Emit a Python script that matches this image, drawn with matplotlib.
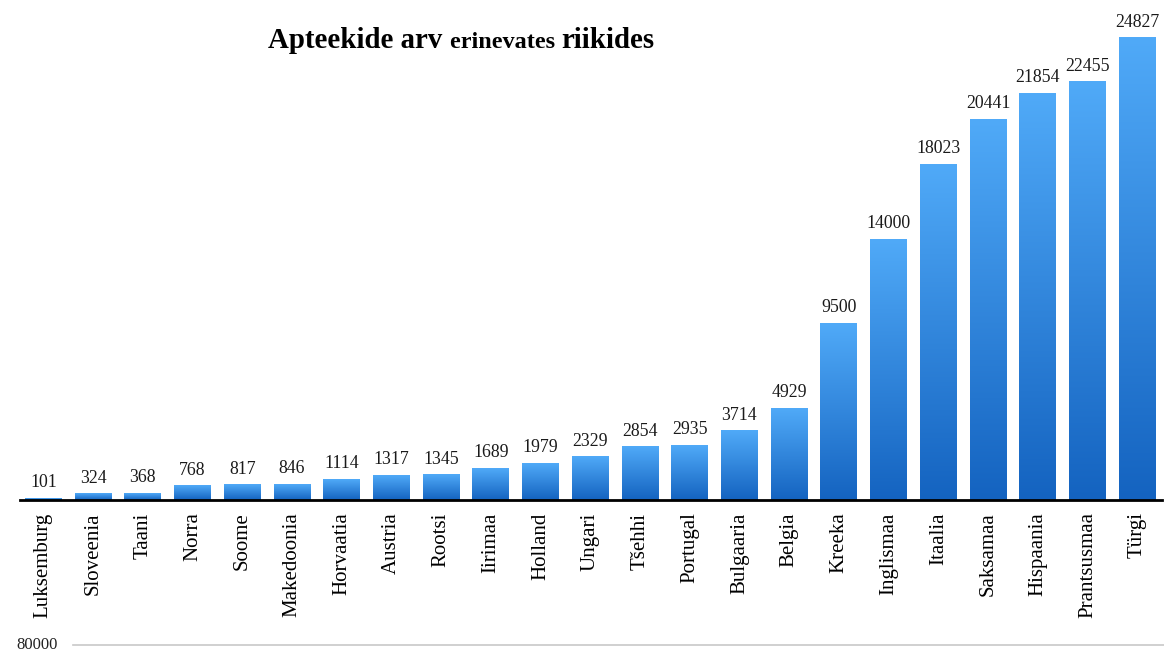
import numpy as np
import matplotlib.pyplot as plt
from matplotlib.colors import LinearSegmentedColormap
from matplotlib.lines import Line2D

countries = ['Luksemburg', 'Sloveenia', 'Taani', 'Norra', 'Soome', 'Makedoonia',
             'Horvaatia', 'Austria', 'Rootsi', 'Iirimaa', 'Holland', 'Ungari',
             'Tšehhi', 'Portugal', 'Bulgaaria', 'Belgia', 'Kreeka', 'Inglismaa',
             'Itaalia', 'Saksamaa', 'Hispaania', 'Prantsusmaa', 'Türgi']
pharmacies = [101, 324, 368, 768, 817, 846, 1114, 1317, 1345, 1689, 1979, 2329,
              2854, 2935, 3714, 4929, 9500, 14000, 18023, 20441, 21854, 22455, 24827]

plt.rcParams['font.family'] = ['Liberation Serif', 'DejaVu Serif']

fig = plt.figure(figsize=(11.64, 6.53), dpi=100)
ax = fig.add_axes([20 / 1164, 1 - 500 / 653, (1162 - 20) / 1164, (500 - 16) / 653])

# gradient: light on top, dark at bottom of each bar
cmap = LinearSegmentedColormap.from_list('blu', ['#1463c0', '#50aaf8'])
grad = np.linspace(0, 1, 256).reshape(-1, 1)
width = 0.74
x = np.arange(len(countries))
bars = ax.bar(x, pharmacies, width=width, color='none')
for b, v in zip(bars, pharmacies):
    x0 = b.get_x()
    ax.imshow(grad, cmap=cmap, origin='lower', aspect='auto',
              extent=(x0, x0 + width, 0, v), zorder=2)
    ax.text(b.get_x() + width / 2, v + 380, str(v), ha='center', va='bottom',
            fontsize=12.8, color='#1a1a1a')

ax.set_xlim(-0.47, 22.5)
ax.set_ylim(0, 26000)
ax.set_xticks(x)
ax.set_xticklabels(countries, rotation=90, fontsize=15, va='top')
ax.tick_params(axis='x', length=0, pad=9)
ax.set_yticks([])
for s in ['top', 'right', 'left']:
    ax.spines[s].set_visible(False)
ax.spines['bottom'].set_linewidth(2)
ax.spines['bottom'].set_zorder(3)

# title with mixed sizes
fig.canvas.draw()
r = fig.canvas.get_renderer()
parts = [('Apteekide arv ', 20.8), ('erinevates ', 17.5), ('riikides', 20.8)]
px = 268
for txt, fs in parts:
    t = fig.text(px / 1164, 1 - 48 / 653, txt, fontsize=fs, fontweight='bold',
                 va='baseline', ha='left')
    px += t.get_window_extent(r).width

# stray axis remnant at the bottom
fig.text(37 / 1164, 1 - 645 / 653, '80000', fontsize=12, ha='center', va='center',
         color='#222222')
fig.add_artist(Line2D([73 / 1164, 1.0], [1 - 645 / 653] * 2, color='#c8c8c8', lw=1.2))

fig.savefig('out.png', dpi=100)
